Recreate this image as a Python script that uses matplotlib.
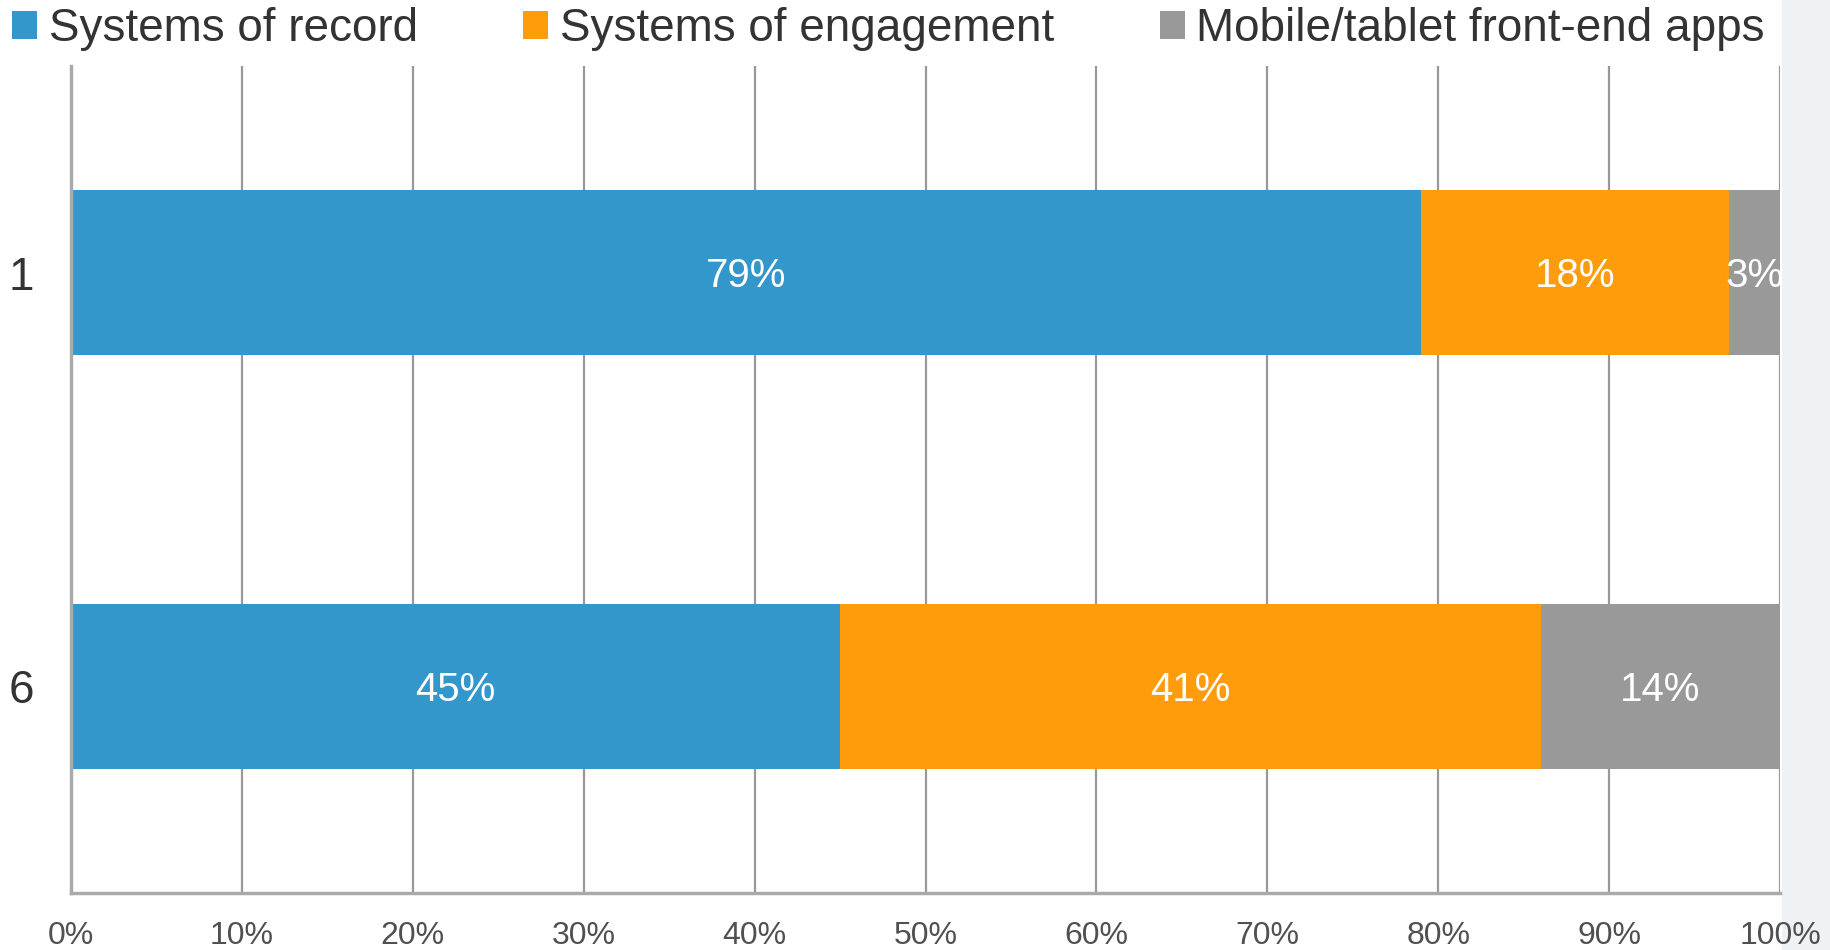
import matplotlib
matplotlib.use("Agg")
import matplotlib.pyplot as plt
from matplotlib.patches import Rectangle
import numpy as np

plt.rcParams["font.family"] = ["Liberation Sans", "DejaVu Sans"]

categories = ["1", "6"]
series_names = ["Systems of record", "Systems of engagement", "Mobile/tablet front-end apps"]
record = [79, 45]
engagement = [18, 41]
mobile = [3, 14]
colors = ["#3497CB", "#FF9C0B", "#999999"]
xticks = [0, 10, 20, 30, 40, 50, 60, 70, 80, 90, 100]

W, H = 1830, 950
fig = plt.figure(figsize=(W / 100, H / 100), dpi=100)
ax = fig.add_axes([71 / W, 1 - 893 / H, (1780 - 71) / W, (893 - 66) / H])

# pale strip on the right edge
fig.patches.append(Rectangle((1782 / W, 0), 1 - 1782 / W, 1, transform=fig.transFigure,
                             facecolor="#EEF2F5", edgecolor="none", zorder=-1))

y = np.arange(len(categories))
left = np.zeros(len(categories))
for name, vals, col in zip(series_names, [record, engagement, mobile], colors):
    bars = ax.barh(y, vals, left=left, height=0.4, color=col, label=name, zorder=2)
    for b, v, l in zip(bars, vals, left):
        ax.text(l + v / 2, b.get_y() + b.get_height() / 2 + 0.008, f"{v}%",
                ha="center", va="center", color="white", fontsize=29,
                zorder=3, clip_on=True)
    left = left + np.array(vals)

ax.set_xlim(0, 100)
ax.set_ylim(1.5, -0.5)
ax.set_xticks(xticks)
ax.set_xticklabels([f"{t}%" for t in xticks], fontsize=23, color="#505050")
ax.set_yticks(y)
ax.set_yticklabels(categories, fontsize=33, color="#333333", ha="left")
ax.tick_params(axis="x", length=0, pad=20)
ax.tick_params(axis="y", length=0, pad=45)
ax.grid(axis="x", color="#999999", linewidth=1.6, zorder=0)
ax.set_axisbelow(True)
for s in ["top", "right"]:
    ax.spines[s].set_visible(False)
for s in ["left", "bottom"]:
    ax.spines[s].set_color("#AAAAAA")
    ax.spines[s].set_linewidth(2.5)

fig.legend(loc="center left", bbox_to_anchor=(12 / W, 1 - 29 / H), ncol=3,
           frameon=False, fontsize=33, handlelength=0.55, handleheight=0.55,
           handletextpad=0.25, columnspacing=2.3, borderpad=0, borderaxespad=0,
           labelcolor="#333333")

fig.savefig("out.png", dpi=100)
